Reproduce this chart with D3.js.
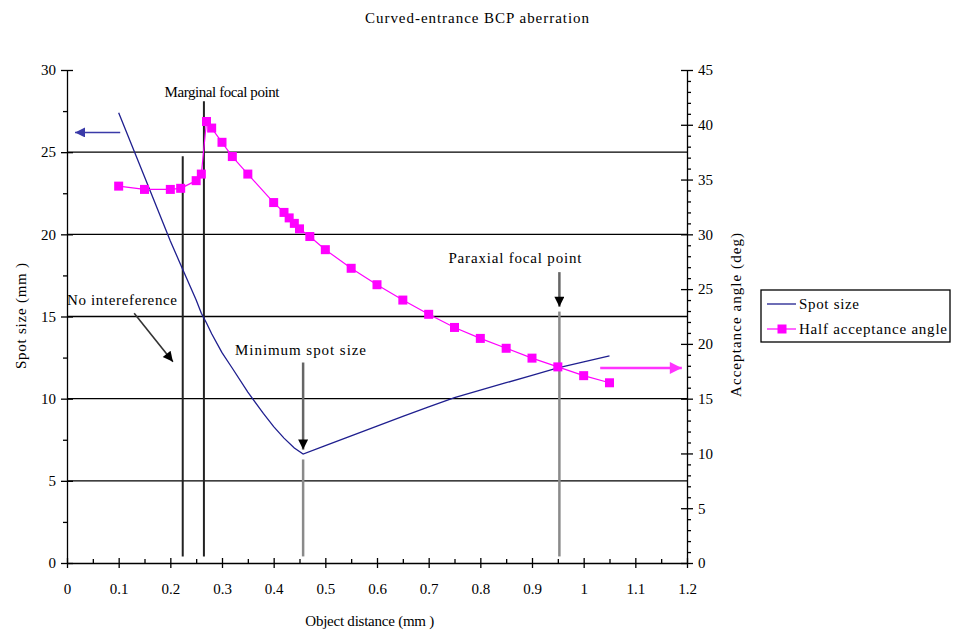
<!DOCTYPE html>
<html>
<head>
<meta charset="utf-8">
<script src="https://cdn.jsdelivr.net/npm/d3@7"></script>
<style>
  html, body { margin: 0; padding: 0; background: #fff; }
  svg text { font-family: "Liberation Serif", "Times New Roman", serif; fill: #000; }
</style>
</head>
<body>
<svg id="chart" width="953" height="634"></svg>
<script>
// Object distance (mm) for each computed point
const distances = [0.10, 0.15, 0.20, 0.22, 0.25, 0.26, 0.27, 0.28, 0.30, 0.32, 0.35, 0.40, 0.42, 0.43, 0.44, 0.45, 0.47, 0.50, 0.55, 0.60, 0.65, 0.70, 0.75, 0.80, 0.85, 0.90, 0.95, 1.00, 1.05];
// Half acceptance angle (deg), right axis
const halfAngle = [34.4, 34.1, 34.1, 34.2, 34.9, 35.5, 40.3, 39.7, 38.4, 37.1, 35.5, 32.9, 32.0, 31.5, 31.0, 30.5, 29.8, 28.6, 26.9, 25.4, 24.0, 22.7, 21.5, 20.5, 19.6, 18.7, 17.9, 17.1, 16.45];
// Spot size (mm), left axis
const spotX = [0.10, 0.15, 0.20, 0.22, 0.25, 0.26, 0.27, 0.28, 0.30, 0.32, 0.35, 0.38, 0.40, 0.42, 0.44, 0.457, 0.50, 0.55, 0.60, 0.65, 0.70, 0.75, 0.80, 0.85, 0.90, 0.95, 1.00, 1.05];
const spotSize = [27.4, 23.5, 19.6, 18.15, 16.0, 15.2, 14.6, 13.95, 12.8, 11.85, 10.4, 9.1, 8.3, 7.6, 7.0, 6.63, 7.14, 7.74, 8.33, 8.92, 9.5, 10.07, 10.52, 10.97, 11.42, 11.87, 12.24, 12.6];

const xTicks = [0, 0.1, 0.2, 0.3, 0.4, 0.5, 0.6, 0.7, 0.8, 0.9, 1, 1.1, 1.2];
const leftTicks = [0, 5, 10, 15, 20, 25, 30];
const rightTicks = [0, 5, 10, 15, 20, 25, 30, 35, 40, 45];

const svg = d3.select("#chart");
const x = d3.scaleLinear().domain([0, 1.2]).range([67, 687]);
const yL = d3.scaleLinear().domain([0, 30]).range([563, 70]);
const yR = d3.scaleLinear().domain([0, 45]).range([563, 70]);

const FS = "15px";

// Title
svg.append("text").attr("x", 477).attr("y", 23).attr("text-anchor", "middle")
  .style("font-size", FS).attr("textLength", 224).attr("lengthAdjust", "spacing")
  .text("Curved-entrance BCP aberration");

// Horizontal gridlines (left-axis majors)
svg.append("g").selectAll("line").data(leftTicks.filter(d => d > 0 && d < 30)).join("line")
  .attr("x1", x(0)).attr("x2", x(1.2)).attr("y1", d => yL(d)).attr("y2", d => yL(d))
  .attr("stroke", "#000").attr("stroke-width", 1.3);

// Left axis
const gL = svg.append("g").attr("transform", `translate(${x(0)},0)`);
gL.call(d3.axisLeft(yL).tickValues(leftTicks).tickSize(6).tickSizeOuter(0).tickFormat(d3.format("d")));
gL.append("g").call(d3.axisLeft(yL).tickValues(d3.range(2.5, 30, 5)).tickSize(4).tickFormat(""));
gL.selectAll(".tick line").filter(function(){ return +d3.select(this).attr("x2") === -6; })
  .attr("x1", 6);

// Right axis
const gR = svg.append("g").attr("transform", `translate(${x(1.2)},0)`);
gR.call(d3.axisRight(yR).tickValues(rightTicks).tickSize(6).tickSizeOuter(0).tickFormat(d3.format("d")));
gR.append("g").call(d3.axisRight(yR).tickValues(d3.range(1, 45, 1).filter(d => d % 5 !== 0)).tickSize(4).tickFormat(""));
gR.selectAll(".tick line").filter(function(){ return +d3.select(this).attr("x2") === 6; })
  .attr("x1", -6);

// Bottom axis
const gB = svg.append("g").attr("transform", `translate(0,${yL(0)})`);
gB.call(d3.axisBottom(x).tickValues(xTicks).tickSize(5).tickSizeOuter(0).tickFormat(d => d === 0 ? "0" : (d === 1 ? "1" : d3.format(".1f")(d))));
gB.selectAll(".tick line").attr("y1", -5);
gB.append("g").call(d3.axisTop(x).tickValues(d3.range(0.05, 1.2, 0.1)).tickSize(4).tickFormat(""));

[gL, gR, gB].forEach(g => {
  g.selectAll("path.domain").attr("stroke", "#000").attr("stroke-width", 1.3);
  g.selectAll(".domain").filter(function(){ return this.parentNode !== g.node(); }).remove();
  g.selectAll(".tick line").attr("stroke", "#000").attr("stroke-width", 1.3);
  g.selectAll(".tick text").style("font-size", FS).style("font-family", "Liberation Serif, serif");
});
gL.selectAll(".tick text").attr("x", -11);
gR.selectAll(".tick text").attr("x", 11);
gB.selectAll(".tick text").attr("y", 20).attr("dy", "0.71em");

// Axis titles
svg.append("text").attr("transform", `translate(${x(0.586)},626)`).attr("text-anchor", "middle")
  .style("font-size", FS).attr("textLength", 129).attr("lengthAdjust", "spacing")
  .text("Object distance (mm )");
svg.append("text").attr("transform", "translate(26,316) rotate(-90)").attr("text-anchor", "middle")
  .style("font-size", FS).attr("textLength", 106).attr("lengthAdjust", "spacing")
  .text("Spot size (mm )");
svg.append("text").attr("transform", "translate(741,315) rotate(-90)").attr("text-anchor", "middle")
  .style("font-size", FS).attr("textLength", 164).attr("lengthAdjust", "spacing")
  .text("Acceptance angle (deg)");

// Arrowheads
const defs = svg.append("defs");
function head(id, color, w, h) {
  defs.append("marker").attr("id", id).attr("viewBox", "0 0 10 10").attr("refX", 10).attr("refY", 5)
    .attr("markerWidth", w).attr("markerHeight", h).attr("markerUnits", "userSpaceOnUse")
    .attr("orient", "auto")
    .append("path").attr("d", "M0,0 L10,5 L0,10 Z").attr("fill", color);
}
head("hBlack", "#000", 14, 10);
head("hBlue", "#3a3aa8", 14, 10);
head("hMag", "#ff33ff", 16, 12);

// Vertical reference lines (left-axis units)
const refLines = [
  { x: 0.224, y0: 24.75, y1: 0.4, color: "#222", w: 2 },
  { x: 0.265, y0: 28.1, y1: 0.4, color: "#222", w: 2 },
  { x: 0.457, y0: 6.3, y1: 0.4, color: "#8a8a8a", w: 2.5 },
  { x: 0.953, y0: 15.3, y1: 0.4, color: "#8a8a8a", w: 2.5 }
];
svg.append("g").selectAll("line").data(refLines).join("line")
  .attr("x1", d => x(d.x)).attr("x2", d => x(d.x))
  .attr("y1", d => yL(d.y0)).attr("y2", d => yL(d.y1))
  .attr("stroke", d => d.color).attr("stroke-width", d => d.w);

// Down arrows over reference lines
const downArrows = [
  { x: 0.457, y0: 12.2, y1: 6.9 },
  { x: 0.953, y0: 17.7, y1: 15.6 }
];
svg.append("g").selectAll("line").data(downArrows).join("line")
  .attr("x1", d => x(d.x)).attr("x2", d => x(d.x))
  .attr("y1", d => yL(d.y0)).attr("y2", d => yL(d.y1))
  .attr("stroke", "#666").attr("stroke-width", 2.5).attr("marker-end", "url(#hBlack)");

// Diagonal arrow for "No intereference"
svg.append("line").attr("x1", x(0.130)).attr("y1", yL(15.2)).attr("x2", x(0.205)).attr("y2", yL(12.25))
  .attr("stroke", "#333").attr("stroke-width", 1.6).attr("marker-end", "url(#hBlack)");

// Series pointer arrows
svg.append("line").attr("x1", x(0.103)).attr("y1", yL(26.2)).attr("x2", x(0.0155)).attr("y2", yL(26.2))
  .attr("stroke", "#3a3aa8").attr("stroke-width", 1.6).attr("marker-end", "url(#hBlue)");
svg.append("line").attr("x1", x(1.032)).attr("y1", yR(17.8)).attr("x2", x(1.19)).attr("y2", yR(17.8))
  .attr("stroke", "#ff33ff").attr("stroke-width", 2.5).attr("marker-end", "url(#hMag)");

// Spot size line
const spotData = spotX.map((d, i) => [d, spotSize[i]]);
svg.append("path").datum(spotData)
  .attr("d", d3.line().x(d => x(d[0])).y(d => yL(d[1])))
  .attr("fill", "none").attr("stroke", "#1f1f8f").attr("stroke-width", 1.3);

// Half acceptance angle line with markers
const angleData = distances.map((d, i) => [d, halfAngle[i]]);
svg.append("path").datum(angleData)
  .attr("d", d3.line().x(d => x(d[0])).y(d => yR(d[1])))
  .attr("fill", "none").attr("stroke", "#ff00ff").attr("stroke-width", 1.2);
svg.append("g").selectAll("rect").data(angleData).join("rect")
  .attr("x", d => x(d[0]) - 4.5).attr("y", d => yR(d[1]) - 4.5)
  .attr("width", 9).attr("height", 9).attr("fill", "#ff00ff");

// Annotation labels
const notes = [
  { t: "Marginal focal point", x: 0.300, y: 28.35, w: 115 },
  { t: "No intereference", x: 0.1065, y: 15.7, w: 110 },
  { t: "Minimum spot size", x: 0.452, y: 12.66, w: 131 },
  { t: "Paraxial focal point", x: 0.867, y: 18.26, w: 133 }
];
svg.append("g").selectAll("text").data(notes).join("text")
  .attr("x", d => x(d.x)).attr("y", d => yL(d.y)).attr("text-anchor", "middle")
  .attr("textLength", d => d.w).attr("lengthAdjust", "spacing")
  .style("font-size", FS).text(d => d.t);

// Legend
const lg = svg.append("g").attr("transform", "translate(761,290)");
lg.append("rect").attr("width", 189).attr("height", 52).attr("fill", "#fff")
  .attr("stroke", "#000").attr("stroke-width", 1.3);
lg.append("line").attr("x1", 6).attr("x2", 35).attr("y1", 14).attr("y2", 14)
  .attr("stroke", "#1f1f8f").attr("stroke-width", 1.3);
lg.append("text").attr("x", 38).attr("y", 19).style("font-size", FS)
  .attr("textLength", 60).attr("lengthAdjust", "spacing").text("Spot size");
lg.append("line").attr("x1", 6).attr("x2", 35).attr("y1", 39).attr("y2", 39)
  .attr("stroke", "#ff00ff").attr("stroke-width", 1.2);
lg.append("rect").attr("x", 16.5).attr("y", 34.5).attr("width", 9).attr("height", 9).attr("fill", "#ff00ff");
lg.append("text").attr("x", 38).attr("y", 44).style("font-size", FS)
  .attr("textLength", 148).attr("lengthAdjust", "spacing").text("Half acceptance angle");
</script>
</body>
</html>
